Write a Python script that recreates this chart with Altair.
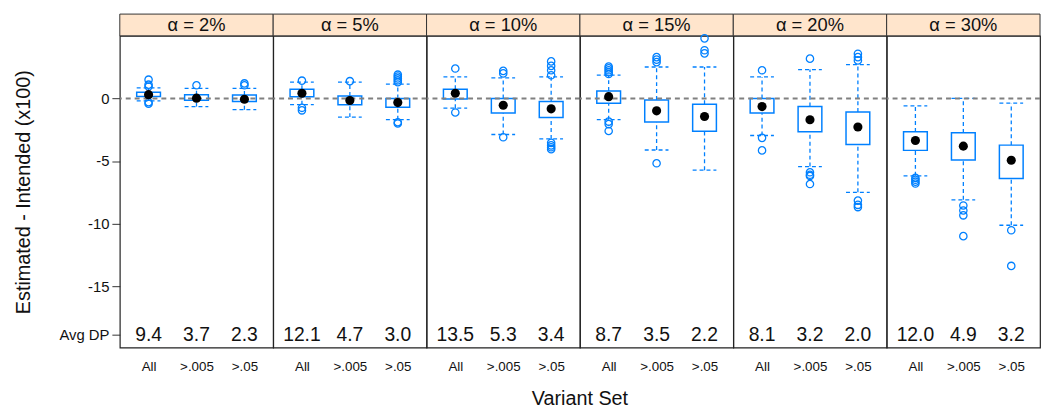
import altair as alt
import pandas as pd

PANELS = ["α = 2%", "α = 5%", "α = 10%", "α = 15%", "α = 20%", "α = 30%"]
SETS = ["All", ">.005", ">.05"]

# box statistics per panel (rows) and variant set (columns)
LOWER = [[-0.2, -0.65, -0.9], [-0.5, -1.49, -1.7], [-0.78, -2.88, -3.23],
         [-1.7, -4.12, -5.73], [-2.96, -5.44, -7.5], [-6.18, -8.1, -10.13]]
Q1 = [[0.15, -0.15, -0.25], [0.14, -0.51, -0.7], [-0.04, -1.17, -1.52],
      [-0.38, -1.88, -2.62], [-1.17, -2.67, -3.68], [-4.15, -4.92, -6.39]]
MEDIAN = [[0.3, 0.02, -0.07], [0.41, -0.17, -0.33], [0.41, -0.54, -0.83],
          [0.14, -0.99, -1.44], [-0.65, -1.7, -2.28], [-3.36, -3.81, -4.94]]
Q3 = [[0.5, 0.3, 0.28], [0.73, 0.2, 0.0], [0.73, 0.0, -0.25],
      [0.59, -0.12, -0.46], [0.0, -0.65, -1.09], [-2.67, -2.75, -3.73]]
UPPER = [[0.85, 0.8, 0.8], [1.3, 1.3, 1.15], [1.72, 1.64, 1.72],
         [1.86, 2.51, 2.51], [1.72, 2.31, 2.7], [-0.59, 0.0, -0.38]]
OUTLIERS = [
    [[1.5, 1.1, 0.95, -0.3, -0.42], [1.05], [1.2, 1.05]],
    [[1.42, -0.75, -0.95], [1.38], [1.9, 1.75, 1.6, 1.45, 1.3, -1.9, -2.0]],
    [[2.39, -1.12], [2.2, 2.0, -3.1], [2.96, 2.6, 2.25, 1.85, -3.55, -3.75, -3.9, -4.05]],
    [[2.55, 2.4, 2.25, 2.1, 1.95, -1.85, -2.05, -2.6], [3.3, 3.1, 2.9, -5.18], [4.8, 3.85, 3.6]],
    [[2.25, -3.15, -4.15], [3.18, -5.9, -6.1, -6.2, -6.84], [3.57, 3.3, 3.04, -8.16, -8.5, -8.68]],
    [[-6.35, -6.5, -6.65, -6.8], [-8.55, -8.95, -9.34, -11.0], [-10.53, -13.38]],
]
AVG_DP = [[9.4, 3.7, 2.3], [12.1, 4.7, 3.0], [13.5, 5.3, 3.4],
          [8.7, 3.5, 2.2], [8.1, 3.2, 2.0], [12.0, 4.9, 3.2]]

Y_TICKS = [0, -5, -10, -15]
DP_ROW = -18.9
Y_DOMAIN = [-19.9, 5.0]

BLUE = "#0080ff"
FONT = "Liberation Sans"

rows = []
for i, p in enumerate(PANELS):
    for j, s in enumerate(SETS):
        rows.append(dict(kind="box", panel=p, set=s, lo=LOWER[i][j], q1=Q1[i][j],
                         med=MEDIAN[i][j], q3=Q3[i][j], hi=UPPER[i][j], dp=AVG_DP[i][j]))
        for v in OUTLIERS[i][j]:
            rows.append(dict(kind="out", panel=p, set=s, val=v))
    rows.append(dict(kind="strip", panel=p, label=p))
df = pd.DataFrame(rows)

W, H = 155, 315

x_enc = alt.X("set:N", scale=alt.Scale(type="point", domain=SETS, padding=0.6),
              axis=alt.Axis(title="", ticks=False, domain=False, labelPadding=12,
                            labelFontSize=13.5, labelAngle=0, labelColor="#111"))
y_scale = alt.Scale(domain=Y_DOMAIN, nice=False, zero=False)
y_axis = alt.Axis(title="Estimated - Intended (x100)", values=Y_TICKS + [DP_ROW],
                  labelExpr="datum.value < -18 ? 'Avg DP' : '' + datum.value",
                  grid=False, domain=False, tickSize=8, tickColor="#333", tickWidth=1,
                  labelFontSize=15, labelColor="#111", labelPadding=3,
                  titleFontSize=20, titleFontWeight="normal", titleColor="#111",
                  titlePadding=26)

base = alt.Chart()
boxes = base.transform_filter(alt.datum.kind == "box")
outs = base.transform_filter(alt.datum.kind == "out")
strips = base.transform_filter(alt.datum.kind == "strip")

strip_rect = strips.mark_rect(fill="#ffe5cc", stroke="#333", strokeWidth=1).encode(
    x=alt.value(0), x2=alt.value(W), y=alt.value(-22), y2=alt.value(0))
whisk_hi = boxes.mark_rule(color=BLUE, strokeDash=[4, 3], strokeWidth=1.3).encode(
    x=x_enc, y=alt.Y("q3:Q", scale=y_scale, axis=y_axis), y2="hi:Q")
whisk_lo = boxes.mark_rule(color=BLUE, strokeDash=[4, 3], strokeWidth=1.3).encode(
    x=x_enc, y=alt.Y("lo:Q", scale=y_scale, axis=y_axis), y2="q1:Q")
cap_hi = boxes.mark_rule(color=BLUE, strokeDash=[4, 3], strokeWidth=1.3,
                         xOffset=-12, x2Offset=12).encode(
    x=x_enc, x2="set:N", y=alt.Y("hi:Q", scale=y_scale, axis=y_axis))
cap_lo = boxes.mark_rule(color=BLUE, strokeDash=[4, 3], strokeWidth=1.3,
                         xOffset=-12, x2Offset=12).encode(
    x=x_enc, x2="set:N", y=alt.Y("lo:Q", scale=y_scale, axis=y_axis))
box = boxes.mark_bar(size=24, fill="white", stroke=BLUE, strokeWidth=1.5).encode(
    x=x_enc, y=alt.Y("q1:Q", scale=y_scale, axis=y_axis), y2="q3:Q")
out = outs.mark_point(shape="circle", filled=False, color=BLUE, size=55,
                      strokeWidth=1.3, opacity=1).encode(
    x=x_enc, y=alt.Y("val:Q", scale=y_scale, axis=y_axis))
zero = strips.mark_rule(color="#808080", strokeDash=[5, 4], strokeWidth=2).encode(
    y=alt.datum(0, scale=y_scale, axis=y_axis))
med = boxes.mark_point(shape="circle", filled=True, color="black", size=85, opacity=1).encode(
    x=x_enc, y=alt.Y("med:Q", scale=y_scale, axis=y_axis))
dp = boxes.mark_text(fontSize=19.5, baseline="middle", color="#111").encode(
    x=x_enc, y=alt.datum(DP_ROW, scale=y_scale, axis=y_axis),
    text=alt.Text("dp:Q", format=".1f"))
strip_txt = strips.mark_text(fontSize=18.5, baseline="middle", color="#111").encode(
    x=alt.value(W / 2), y=alt.value(-11), text="label:N")

layered = alt.layer(strip_rect, whisk_hi, whisk_lo, cap_hi, cap_lo, box, out, zero,
                    med, dp, strip_txt, data=df).properties(width=W, height=H)

chart = layered.facet(
    column=alt.Column("panel:N", sort=PANELS,
                      header=alt.Header(labels=False, title="Variant Set",
                                        titleOrient="bottom", titleFontSize=20,
                                        titleFontWeight="normal", titleColor="#111",
                                        titleFont=FONT, titlePadding=6)),
    spacing=0,
    bounds="flush",
).configure(font=FONT, padding={"left": 5, "top": 2, "right": 0, "bottom": 0}
).configure_view(stroke="#222", strokeWidth=1.2)

chart.save("out.html", embed_options={"renderer": "svg", "actions": False})
